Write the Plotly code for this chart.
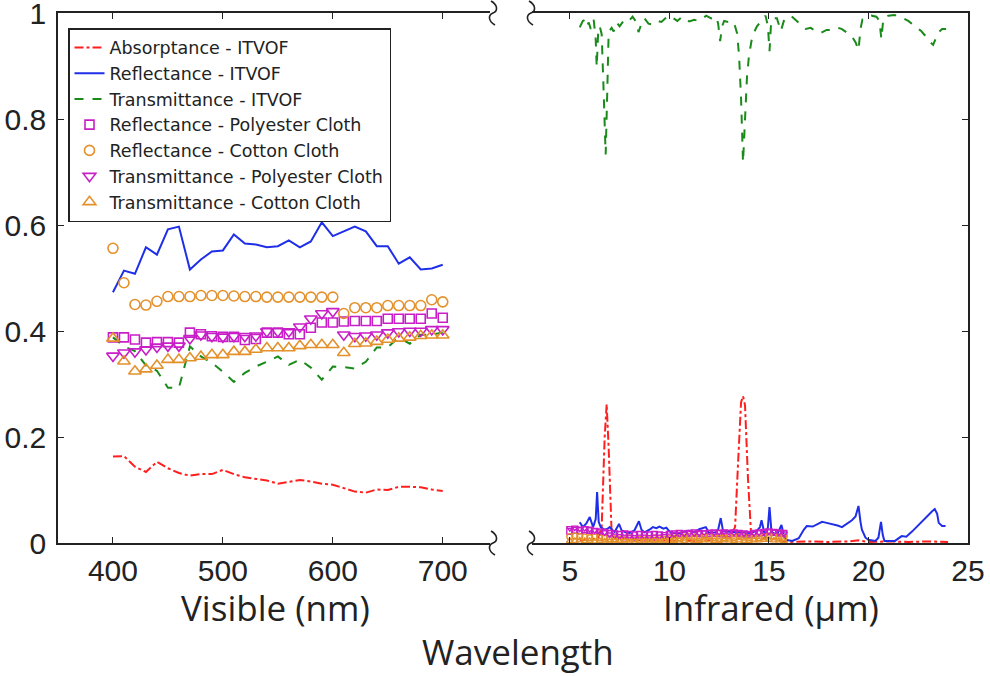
import plotly.graph_objects as go

# ---------------- DATA ----------------
# Visible region (nm)
vis_wl = [400, 410, 420, 430, 440, 450, 460, 470, 480, 490, 500, 510, 520, 530, 540, 550,
          560, 570, 580, 590, 600, 610, 620, 630, 640, 650, 660, 670, 680, 690, 700]
vis_abs_itvof = [0.163, 0.164, 0.144, 0.134, 0.153, 0.141, 0.132, 0.127, 0.130, 0.130, 0.138,
                 0.130, 0.124, 0.121, 0.118, 0.112, 0.115, 0.119, 0.116, 0.112, 0.110, 0.103,
                 0.097, 0.095, 0.101, 0.100, 0.106, 0.106, 0.105, 0.101, 0.098]
vis_ref_itvof = [0.473, 0.514, 0.508, 0.558, 0.544, 0.592, 0.597, 0.516, 0.535, 0.550, 0.552,
                 0.582, 0.565, 0.563, 0.558, 0.560, 0.571, 0.558, 0.569, 0.605, 0.579, 0.588,
                 0.597, 0.588, 0.560, 0.560, 0.527, 0.539, 0.516, 0.518, 0.525]
vis_tra_itvof = [0.388, 0.371, 0.362, 0.335, 0.325, 0.293, 0.293, 0.371, 0.352, 0.340, 0.323,
                 0.304, 0.321, 0.333, 0.342, 0.352, 0.336, 0.346, 0.331, 0.308, 0.333, 0.332,
                 0.329, 0.342, 0.369, 0.369, 0.388, 0.376, 0.393, 0.393, 0.397]
vis_ref_poly = [0.388, 0.388, 0.384, 0.378, 0.379, 0.379, 0.378, 0.397, 0.394, 0.390, 0.389,
                0.389, 0.383, 0.385, 0.397, 0.397, 0.394, 0.394, 0.406, 0.416, 0.416, 0.418,
                0.419, 0.419, 0.419, 0.423, 0.423, 0.423, 0.423, 0.433, 0.425]
vis_ref_cotton = [0.556, 0.491, 0.450, 0.449, 0.456, 0.465, 0.465, 0.465, 0.467, 0.467, 0.467,
                  0.466, 0.465, 0.465, 0.464, 0.464, 0.464, 0.464, 0.464, 0.464, 0.464, 0.433,
                  0.444, 0.444, 0.444, 0.448, 0.448, 0.448, 0.448, 0.459, 0.455]
vis_tra_poly = [0.353, 0.359, 0.361, 0.365, 0.370, 0.372, 0.372, 0.386, 0.393, 0.390, 0.389,
                0.390, 0.390, 0.391, 0.399, 0.399, 0.399, 0.408, 0.423, 0.433, 0.437, 0.393,
                0.390, 0.391, 0.393, 0.397, 0.399, 0.400, 0.400, 0.403, 0.403]
vis_tra_cotton = [0.386, 0.343, 0.324, 0.328, 0.335, 0.346, 0.346, 0.349, 0.352, 0.355, 0.355,
                  0.361, 0.361, 0.365, 0.368, 0.368, 0.368, 0.372, 0.374, 0.374, 0.374, 0.359,
                  0.376, 0.377, 0.380, 0.384, 0.386, 0.388, 0.391, 0.392, 0.392]

# Infrared region (um) - ITVOF
ir_abs_wl = [5.5, 6.0, 6.4, 6.6, 6.75, 6.85, 6.95, 7.1, 7.3, 8.0, 9.0, 10.0, 11.0, 12.0, 12.55,
             13.0, 13.3, 13.45, 13.6, 13.7, 13.8, 13.95, 14.1, 14.4, 15.0, 15.5, 16.0, 17.0,
             18.0, 19.0, 19.5, 20.0, 21.0, 22.0, 23.0, 24.0]
ir_abs_itvof = [0.005, 0.006, 0.008, 0.03, 0.20, 0.262, 0.18, 0.02, 0.008, 0.006, 0.005, 0.004,
                0.004, 0.005, 0.02, 0.008, 0.03, 0.15, 0.265, 0.277, 0.26, 0.12, 0.02, 0.006,
                0.010, 0.005, 0.002, 0.003, 0.002, 0.003, 0.005, 0.002, 0.003, 0.002, 0.003,
                0.002]
ir_ref_wl = [5.5, 5.65, 5.83, 6.0, 6.17, 6.3, 6.37, 6.45, 6.55, 6.75, 6.9, 7.0, 7.15, 7.25,
             7.47, 7.6, 7.8, 8.0, 8.25, 8.47, 8.6, 8.75, 9.0, 9.17, 9.35, 9.5, 9.7, 9.85, 10.0,
             10.17, 10.5, 10.8, 11.0, 11.25, 11.5, 11.7, 11.83, 12.0, 12.3, 12.45, 12.58, 12.7,
             13.0, 13.33, 13.7, 14.0, 14.37, 14.55, 14.63, 14.75, 14.83, 14.95, 15.03, 15.12,
             15.17, 15.4, 15.63, 15.75, 15.83, 16.17, 16.5, 16.75, 16.9, 17.2, 17.45, 17.67,
             17.9, 18.2, 18.45, 18.67, 18.9, 19.17, 19.35, 19.5, 19.6, 19.67, 19.85, 20.0,
             20.35, 20.5, 20.63, 20.72, 20.8, 21.0, 21.33, 21.67, 21.9, 22.2, 22.5, 22.75,
             23.0, 23.2, 23.33, 23.45, 23.53, 23.7, 23.87]
ir_ref_itvof = [0.039, 0.030, 0.037, 0.049, 0.030, 0.045, 0.096, 0.040, 0.030, 0.025, 0.027,
                0.030, 0.024, 0.021, 0.036, 0.024, 0.020, 0.019, 0.024, 0.041, 0.025, 0.020,
                0.025, 0.030, 0.028, 0.031, 0.027, 0.029, 0.022, 0.019, 0.018, 0.022, 0.023,
                0.020, 0.026, 0.028, 0.030, 0.019, 0.020, 0.025, 0.047, 0.022, 0.021, 0.020,
                0.019, 0.019, 0.022, 0.030, 0.043, 0.020, 0.009, 0.030, 0.068, 0.025, 0.020,
                0.015, 0.034, 0.015, 0.006, 0.004, 0.009, 0.025, 0.032, 0.031, 0.036, 0.040,
                0.038, 0.036, 0.033, 0.030, 0.036, 0.043, 0.050, 0.070, 0.040, 0.025, 0.010,
                0.006, 0.004, 0.010, 0.040, 0.015, 0.004, 0.004, 0.004, 0.013, 0.012, 0.022,
                0.034, 0.044, 0.053, 0.060, 0.064, 0.055, 0.038, 0.032, 0.032]
ir_tra_wl = [5.5, 5.65, 5.75, 5.85, 5.95, 6.05, 6.2, 6.3, 6.35, 6.42, 6.5, 6.6, 6.7, 6.8, 6.88,
             6.95, 7.1, 7.2, 7.35, 7.5, 7.7, 7.9, 8.15, 8.3, 8.45, 8.6, 8.75, 8.95, 9.15, 9.4,
             9.6, 9.8, 10.0, 10.2, 10.4, 10.65, 10.85, 11.0, 11.25, 11.5, 11.7, 11.85, 12.1,
             12.35, 12.45, 12.55, 12.65, 12.75, 12.95, 13.15, 13.3, 13.4, 13.5, 13.6, 13.7,
             13.8, 13.9, 14.0, 14.17, 14.4, 14.6, 14.83, 14.95, 15.03, 15.1, 15.2, 15.4, 15.6,
             15.75, 15.9, 16.1, 16.4, 16.7, 16.85, 17.1, 17.35, 17.6, 17.9, 18.2, 18.45, 18.65,
             18.9, 19.15, 19.35, 19.5, 19.6, 19.7, 19.95, 20.15, 20.4, 20.55, 20.65, 20.75,
             21.0, 21.3, 21.5, 21.75, 22.0, 22.3, 22.65, 22.9, 23.1, 23.25, 23.4, 23.5, 23.7,
             23.9]
ir_tra_itvof = [0.973, 0.985, 0.987, 0.975, 0.982, 0.970, 0.987, 0.950, 0.898, 0.960, 0.975,
                0.960, 0.850, 0.733, 0.850, 0.964, 0.972, 0.965, 0.982, 0.975, 0.985, 0.982,
                0.993, 0.985, 0.964, 0.980, 0.990, 0.980, 0.978, 0.985, 0.983, 0.990, 0.995,
                0.990, 0.985, 0.993, 0.988, 0.984, 0.987, 0.985, 0.990, 0.995, 0.990, 0.993,
                0.980, 0.947, 0.975, 0.985, 0.983, 0.985, 0.975, 0.962, 0.920, 0.840, 0.718,
                0.800, 0.880, 0.920, 0.957, 0.975, 0.985, 0.995, 0.975, 0.928, 0.975, 0.990,
                0.990, 0.966, 0.985, 0.990, 0.995, 0.985, 0.975, 0.970, 0.972, 0.966, 0.962,
                0.968, 0.968, 0.972, 0.970, 0.964, 0.957, 0.945, 0.930, 0.970, 0.988, 0.993,
                0.995, 0.993, 0.985, 0.951, 0.990, 0.995, 0.996, 0.995, 0.990, 0.985, 0.976,
                0.966, 0.955, 0.945, 0.940, 0.952, 0.963, 0.970, 0.970]

# Infrared region (um) - cloths
ir_cloth_wl = [5.0, 5.25, 5.5, 5.75, 6.0, 6.25, 6.5, 6.75, 7.0, 7.25, 7.5, 7.75, 8.0, 8.25,
               8.5, 8.75, 9.0, 9.25, 9.5, 9.75, 10.0, 10.25, 10.5, 10.75, 11.0, 11.25, 11.5,
               11.75, 12.0, 12.25, 12.5, 12.75, 13.0, 13.25, 13.5, 13.75, 14.0, 14.25, 14.5,
               14.75, 15.0, 15.25, 15.5, 15.75]
ir_ref_poly = [0.022, 0.024, 0.023, 0.025, 0.024, 0.022, 0.021, 0.020,
               0.018, 0.017, 0.016, 0.017, 0.016, 0.015, 0.016, 0.015,
               0.015, 0.016, 0.015, 0.014, 0.016, 0.017, 0.018, 0.017,
               0.018, 0.019, 0.018, 0.017, 0.018, 0.019, 0.018, 0.017,
               0.018, 0.019, 0.018, 0.017, 0.016, 0.018, 0.019, 0.020,
               0.021, 0.020, 0.019, 0.018]
ir_tra_poly = [0.028, 0.029, 0.027, 0.028, 0.026, 0.024, 0.022, 0.020,
               0.016, 0.014, 0.013, 0.012, 0.012, 0.011, 0.012, 0.012,
               0.011, 0.012, 0.012, 0.013, 0.014, 0.016, 0.017, 0.018,
               0.019, 0.018, 0.019, 0.020, 0.021, 0.020, 0.021, 0.022,
               0.021, 0.020, 0.019, 0.018, 0.018, 0.019, 0.020, 0.021,
               0.022, 0.021, 0.020, 0.018]
ir_ref_cotton = [0.012, 0.013, 0.012, 0.011, 0.010, 0.011, 0.010, 0.009,
                 0.008, 0.008, 0.007, 0.008, 0.009, 0.008, 0.007, 0.008,
                 0.008, 0.009, 0.008, 0.007, 0.008, 0.009, 0.010, 0.011,
                 0.012, 0.011, 0.010, 0.011, 0.012, 0.010, 0.009, 0.010,
                 0.011, 0.010, 0.012, 0.011, 0.010, 0.009, 0.010, 0.012,
                 0.013, 0.012, 0.011, 0.010]
ir_tra_cotton = [0.004, 0.004, 0.005, 0.004, 0.004, 0.003, 0.004, 0.003,
                 0.003, 0.003, 0.002, 0.003, 0.003, 0.002, 0.003, 0.003,
                 0.003, 0.004, 0.003, 0.003, 0.004, 0.004, 0.005, 0.004,
                 0.005, 0.004, 0.004, 0.005, 0.005, 0.004, 0.004, 0.005,
                 0.005, 0.004, 0.005, 0.004, 0.004, 0.005, 0.005, 0.006,
                 0.006, 0.005, 0.005, 0.004]

names = ["Absorptance - ITVOF", "Reflectance - ITVOF", "Transmittance - ITVOF",
         "Reflectance - Polyester Cloth", "Reflectance - Cotton Cloth",
         "Transmittance - Polyester Cloth", "Transmittance - Cotton Cloth"]
vis_ticks = [400, 500, 600, 700]
ir_ticks = [5, 10, 15, 20, 25]
y_ticks = [0, 0.2, 0.4, 0.6, 0.8, 1]

# ---------------- STYLE ----------------
RED = "#ff1f1f"
BLUE = "#1f2fe8"
GREEN = "#1a8a1a"
MAG = "#c81ec8"
ORG = "#e4912b"

W, H = 990, 676
ML, MR, MT, MB = 58, 22, 13, 133
PW = W - ML - MR
PH = H - MT - MB


def px(x):
    return (x - ML) / PW


def py(y):
    return (H - MB - y) / PH


fig = go.Figure()

line_specs = [
    (names[0], vis_abs_itvof, ir_abs_wl, ir_abs_itvof, RED, "dashdot"),
    (names[1], vis_ref_itvof, ir_ref_wl, ir_ref_itvof, BLUE, "solid"),
    (names[2], vis_tra_itvof, ir_tra_wl, ir_tra_itvof, GREEN, "dash"),
]
for nm, vv, iw, iv, col, dash in line_specs:
    fig.add_trace(go.Scatter(x=vis_wl, y=vv, mode="lines", name=nm, legendgroup=nm,
                             line=dict(color=col, width=2, dash=dash),
                             xaxis="x", yaxis="y"))
    fig.add_trace(go.Scatter(x=iw, y=iv, mode="lines", name=nm, legendgroup=nm,
                             showlegend=False, cliponaxis=False,
                             line=dict(color=col, width=2, dash=dash),
                             xaxis="x2", yaxis="y2"))

marker_specs = [
    (names[3], vis_ref_poly, ir_ref_poly, MAG, "square-open", 9),
    (names[4], vis_ref_cotton, ir_ref_cotton, ORG, "circle-open", 10),
    (names[5], vis_tra_poly, ir_tra_poly, MAG, "triangle-down-open", 11),
    (names[6], vis_tra_cotton, ir_tra_cotton, ORG, "triangle-up-open", 11),
]
for nm, vv, iv, col, sym, sz in marker_specs:
    fig.add_trace(go.Scatter(x=vis_wl, y=vv, mode="markers", name=nm, legendgroup=nm,
                             marker=dict(symbol=sym, size=sz, color=col,
                                         line=dict(color=col, width=1.6)),
                             xaxis="x", yaxis="y"))
    fig.add_trace(go.Scatter(x=ir_cloth_wl, y=iv, mode="markers", name=nm, legendgroup=nm,
                             showlegend=False, cliponaxis=False,
                             marker=dict(symbol=sym, size=6, color=col,
                                         line=dict(color=col, width=1.4)),
                             xaxis="x2", yaxis="y2"))

tickfont = dict(family="Liberation Sans, Arial, sans-serif", size=30, color="#222222")
axis_common = dict(showline=True, linecolor="#222222", linewidth=1.6, ticks="inside",
                   ticklen=6, tickwidth=1.3, tickcolor="#222222", showgrid=False,
                   zeroline=False, tickfont=tickfont, automargin=False,
                   ticklabeloverflow="allow")

fig.update_layout(
    width=W, height=H,
    margin=dict(l=ML, r=MR, t=MT, b=MB, autoexpand=False),
    paper_bgcolor="white", plot_bgcolor="white",
    showlegend=True,
    legend=dict(x=px(68), y=py(28), xanchor="left", yanchor="top",
                bgcolor="white", bordercolor="#222222", borderwidth=1.5,
                font=dict(family="DejaVu Sans, sans-serif", size=17.5,
                          color="#222222"),
                itemwidth=30, tracegroupgap=0,
                entrywidth=318, entrywidthmode="pixels"),
    xaxis=dict(domain=[0, px(490)], range=[350, 743], tickvals=vis_ticks,
               mirror="ticks", anchor="y", **axis_common),
    yaxis=dict(domain=[0, 1], range=[0, 1], tickvals=y_ticks, anchor="x",
               ticklabelstandoff=4, **axis_common),
    xaxis2=dict(domain=[px(532), 1], range=[3.1, 25], tickvals=ir_ticks,
                mirror="ticks", anchor="y2", **axis_common),
    yaxis2=dict(domain=[0, 1], range=[0, 1], tickvals=y_ticks, anchor="x2",
                side="right", showticklabels=False, **axis_common),
)

# break marks
def squiggle(cx, cy):
    pts = [(cx - 2, cy - 12), (cx + 5, cy - 8), (cx + 5, cy - 2), (cx, cy),
           (cx - 5, cy + 2), (cx - 5, cy + 8), (cx + 2, cy + 12)]
    s = "M %f,%f C %f,%f %f,%f %f,%f C %f,%f %f,%f %f,%f" % (
        px(pts[0][0]), py(pts[0][1]), px(pts[1][0]), py(pts[1][1]),
        px(pts[2][0]), py(pts[2][1]), px(pts[3][0]), py(pts[3][1]),
        px(pts[4][0]), py(pts[4][1]), px(pts[5][0]), py(pts[5][1]),
        px(pts[6][0]), py(pts[6][1]))
    return dict(type="path", xref="paper", yref="paper", path=s,
                line=dict(color="#222222", width=1.6))

shapes = []
for cx in (493, 531):
    for cy in (MT, H - MB):
        shapes.append(squiggle(cx, cy))
fig.update_layout(shapes=shapes)

labfont = dict(family="Open Sans, sans-serif", size=35, color="#222222")
fig.add_annotation(text="Visible (nm)", x=px(275), y=py(607), xref="paper", yref="paper",
                   showarrow=False, font=labfont, xanchor="center", yanchor="middle")
fig.add_annotation(text="Infrared (µm)", x=px(771), y=py(607), xref="paper", yref="paper",
                   showarrow=False, font=labfont, xanchor="center", yanchor="middle")
fig.add_annotation(text="Wavelength", x=px(518), y=py(651), xref="paper", yref="paper",
                   showarrow=False, font=labfont, xanchor="center", yanchor="middle")

fig.write_html("out.html", config={"displayModeBar": False},
               post_script="document.body.style.margin='0';document.body.style.overflow='hidden';")
